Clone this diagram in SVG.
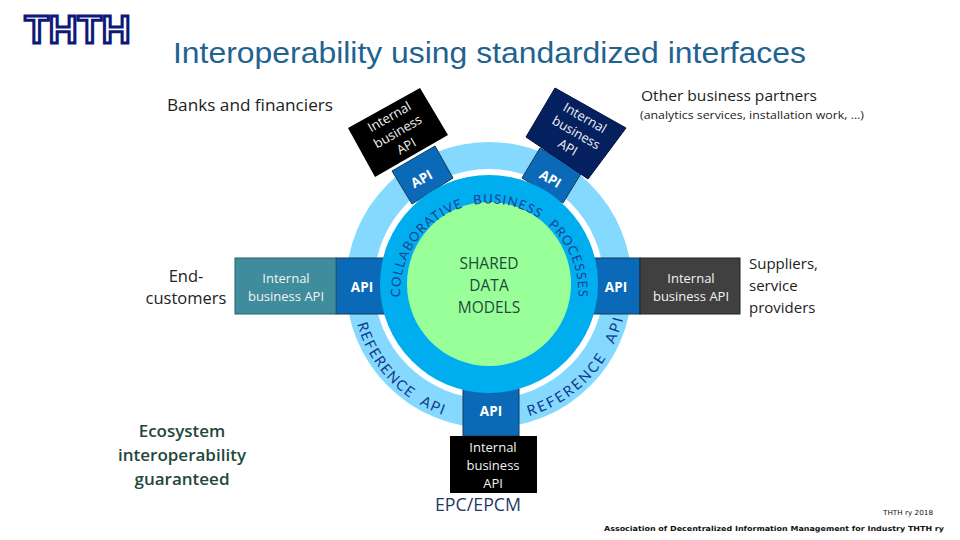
<svg xmlns="http://www.w3.org/2000/svg" width="960" height="540" viewBox="0 0 960 540">
<style>
text{font-family:"Open Sans","Noto Sans",sans-serif}
.lbl{font-size:16.500px;fill:#222;text-anchor:middle}
.box{font-size:13px;fill:#f2f2f2;text-anchor:middle}
.api{font-size:13.500px;font-weight:700;fill:#fff;text-anchor:middle}
.bar{fill:#0a6ab8;stroke:#123a5c;stroke-width:1}
.ring{font-family:Lato,"Open Sans",sans-serif;font-size:13px;fill:#1c3f94}
.ref{font-family:Lato,"Open Sans",sans-serif;font-size:14.500px;fill:#123a8c}
.eco{font-size:17px;font-weight:600;fill:#24473c;text-anchor:middle}
.foot{font-family:"DejaVu Sans",sans-serif;font-size:7px;fill:#111}
</style>
<defs>
<path id="arcTop" d="M400.500 297A89 89 0 1 1 577.500 305"/>
<path id="arcL" d="M357 324A137 137 0 0 0 452 418"/>
<path id="arcR" d="M529 416A137 137 0 0 0 625 310"/>
</defs>
<rect width="960" height="540" fill="#fff"/>
<g id="logo"><text x="24.500" y="42.500" font-size="39" font-weight="700" fill="#fff" stroke="#0d1a7a" stroke-width="3" textLength="106" lengthAdjust="spacingAndGlyphs" style="font-family:'Liberation Sans',sans-serif">THTH</text></g>
<text id="title" x="173" y="63" style="font-family:'Liberation Sans',sans-serif" font-size="29.500" fill="#1f6391" textLength="633" lengthAdjust="spacingAndGlyphs">Interoperability using standardized interfaces</text>

<g id="rings">
<circle cx="489" cy="285" r="143" fill="#85d9ff"/>
<circle cx="489" cy="284" r="115" fill="#fff"/>
</g>

<g id="connectors">
<rect class="bar" x="336" y="258" width="50" height="56"/>
<rect class="bar" x="592" y="258" width="48" height="56"/>
<rect class="bar" x="463" y="385" width="56" height="51"/>
<polygon class="bar" points="392,171 435,146 453,178 412,204"/>
<polygon class="bar" points="540,148 582,172 563,203 522,178"/>
</g>

<g id="core">
<circle cx="489" cy="284" r="109" fill="#00aeef"/>
<circle cx="489" cy="284" r="82" fill="#99ff99"/>
<text class="ring" letter-spacing="1.100" word-spacing="6"><textPath href="#arcTop">COLLABORATIVE BUSINESS PROCESSES</textPath></text>
<text text-anchor="middle" font-size="15.500" fill="#1f4a3c"><tspan x="489" y="269">SHARED</tspan><tspan x="489" y="291">DATA</tspan><tspan x="489" y="313">MODELS</tspan></text>
</g>

<g id="reference-api">
<text class="ref" letter-spacing="1.500" word-spacing="5"><textPath href="#arcL">REFERENCE API</textPath></text>
<text class="ref" letter-spacing="2.200" word-spacing="8"><textPath href="#arcR">REFERENCE API</textPath></text>
</g>

<g id="api-labels">
<text class="api" x="362" y="292">API</text>
<text class="api" x="616" y="292">API</text>
<text class="api" x="491" y="416">API</text>
<text class="api" transform="translate(424 183) rotate(-30)">API</text>
<text class="api" transform="translate(548 183) rotate(30)">API</text>
</g>

<g id="node-banks-api">
<polygon points="348,128 420,88 448,135 375,177" fill="#000"/>
<g transform="translate(398 132) rotate(-30)"><text class="box" y="-13">Internal</text><text class="box" y="4">business</text><text class="box" y="21">API</text></g>
</g>
<g id="node-partners-api">
<polygon points="526,137 555,88 626,128 588,179" fill="#04205f" stroke="#02123c"/>
<g transform="translate(576 133) rotate(30)"><text class="box" y="-13">Internal</text><text class="box" y="4">business</text><text class="box" y="21">API</text></g>
</g>
<g id="node-customers-api">
<rect x="235" y="258" width="101" height="56" fill="#3f8c9c" stroke="#2d5f6b"/>
<text class="box" x="286" y="283">Internal</text><text class="box" x="286" y="301">business API</text>
</g>
<g id="node-suppliers-api">
<rect x="640" y="258" width="100" height="56" fill="#404040" stroke="#222"/>
<text class="box" x="691" y="283">Internal</text><text class="box" x="691" y="301">business API</text>
</g>
<g id="node-epc-api">
<rect x="450" y="436" width="87" height="57" fill="#000"/>
<text class="box" x="493" y="452">Internal</text><text class="box" x="493" y="470">business</text><text class="box" x="493" y="488">API</text>
</g>

<g id="labels">
<text class="lbl" x="250" y="111" textLength="166" lengthAdjust="spacingAndGlyphs">Banks and financiers</text>
<text class="lbl" x="729" y="101" style="font-size:14.500px" textLength="176" lengthAdjust="spacingAndGlyphs">Other business partners</text>
<text class="lbl" x="752" y="119" style="font-size:11px" textLength="224" lengthAdjust="spacingAndGlyphs">(analytics services, installation work, …)</text>
<text class="lbl" x="186" y="282">End-</text>
<text class="lbl" x="186" y="304">customers</text>
<text class="lbl" style="text-anchor:start;font-size:15px" x="749" y="269">Suppliers,</text>
<text class="lbl" style="text-anchor:start;font-size:15px" x="749" y="291">service</text>
<text class="lbl" style="text-anchor:start;font-size:15px" x="749" y="313">providers</text>
<text class="eco" x="182" y="437">Ecosystem</text>
<text class="eco" x="182" y="461">interoperability</text>
<text class="eco" x="182" y="485">guaranteed</text>
<text class="lbl" x="478" y="511" style="font-size:18px;fill:#1f3864" textLength="86" lengthAdjust="spacingAndGlyphs">EPC/EPCM</text>
<text class="foot" x="883" y="515" textLength="50" lengthAdjust="spacingAndGlyphs">THTH ry 2018</text>
<text class="foot" x="604" y="531" font-weight="700" textLength="340" lengthAdjust="spacingAndGlyphs">Association of Decentralized Information Management for Industry THTH ry</text>
</g>
</svg>
